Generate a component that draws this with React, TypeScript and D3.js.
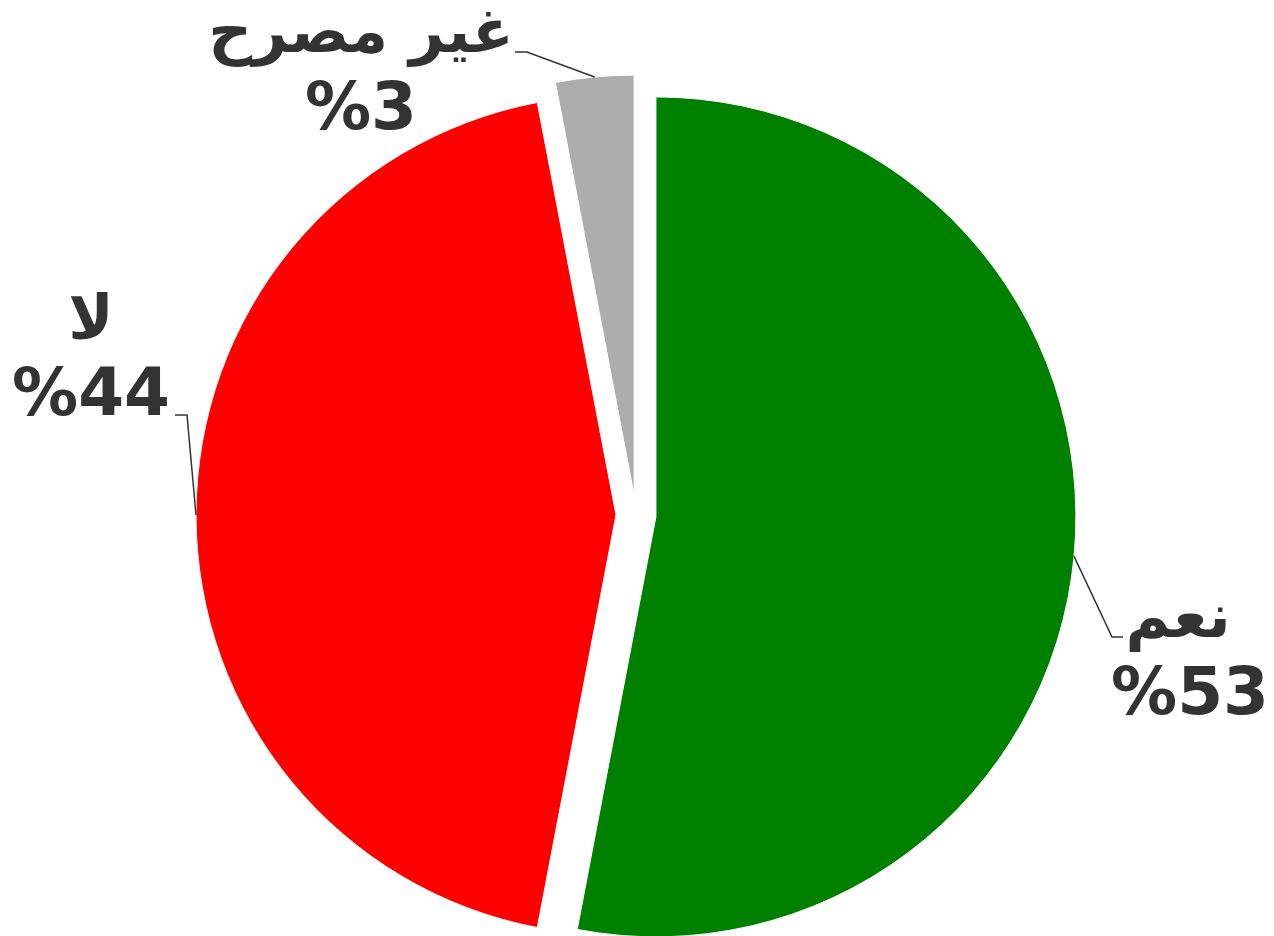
import React from 'react';
import * as d3 from 'd3';

// chart data
const categories = ['نعم', 'لا', 'غير مصرح'];
const values = [53, 44, 3];
const colors = ['#008000', '#ff0000', '#adadad'];

const App = () => {
  // chart size and pie geometry
  const width = 1274;
  const height = 936;
  const cx = 636;
  const cy = 515;
  const radius = 420;
  const explode = 20;
  const nameSize = 61;
  const valueSize = 66;
  const lineGap = 77;

  // label placement (text centre x, first baseline y, elbow point, tick end x)
  const labelLayout = [
    { tx: 1190, ty: 637, ex: 1112, ey: 637, hx: 1123, nameShift: -12 },
    { tx: 91, ty: 338, ex: 187, ey: 415, hx: 175, nameShift: 0 },
    { tx: 361, ty: 52, ex: 527, ey: 52, hx: 515, nameShift: 0 },
  ];

  const slices = values.map((v, i) => ({ name: categories[i], value: v, color: colors[i] }));

  const pie = d3.pie<any>()
    .sort(null)
    .value(d => d.value);

  const arc = d3.arc<any>()
    .innerRadius(0)
    .outerRadius(radius);

  const arcs = pie(slices);

  return (
    <svg
      width={width}
      height={height}
      style={{ position: 'absolute', left: 0, top: 0 }}
      fontFamily="'DejaVu Sans', sans-serif"
    >
      <g transform={`translate(${cx}, ${cy})`}>
        {arcs.map((a, i) => {
          const mid = (a.startAngle + a.endAngle) / 2;
          const dx = Math.sin(mid) * explode;
          const dy = -Math.cos(mid) * explode;
          return (
            <path
              key={i}
              d={arc(a) as string}
              transform={`translate(${dx}, ${dy})`}
              fill={a.data.color}
              stroke='#fff'
              strokeWidth={1}
            />
          );
        })}
      </g>
      {arcs.map((a, i) => {
        const mid = (a.startAngle + a.endAngle) / 2;
        const ox = cx + Math.sin(mid) * (radius + explode);
        const oy = cy - Math.cos(mid) * (radius + explode);
        const l = labelLayout[i];
        return (
          <g key={i}>
            <polyline
              points={`${ox},${oy} ${l.ex},${l.ey} ${l.hx},${l.ey}`}
              fill='none'
              stroke='#333'
              strokeWidth={1.5}
            />
            <text
              x={l.tx + l.nameShift}
              y={l.ty}
              textAnchor='middle'
              fontSize={nameSize}
              fontWeight='bold'
              fill='#333'
              direction='rtl'
            >
              {a.data.name}
            </text>
            <text
              x={l.tx}
              y={l.ty + lineGap}
              textAnchor='middle'
              fontSize={valueSize}
              fontWeight='bold'
              fill='#333'
              direction='ltr'
            >
              {`%${a.data.value}`}
            </text>
          </g>
        );
      })}
    </svg>
  );
};

export default App;
